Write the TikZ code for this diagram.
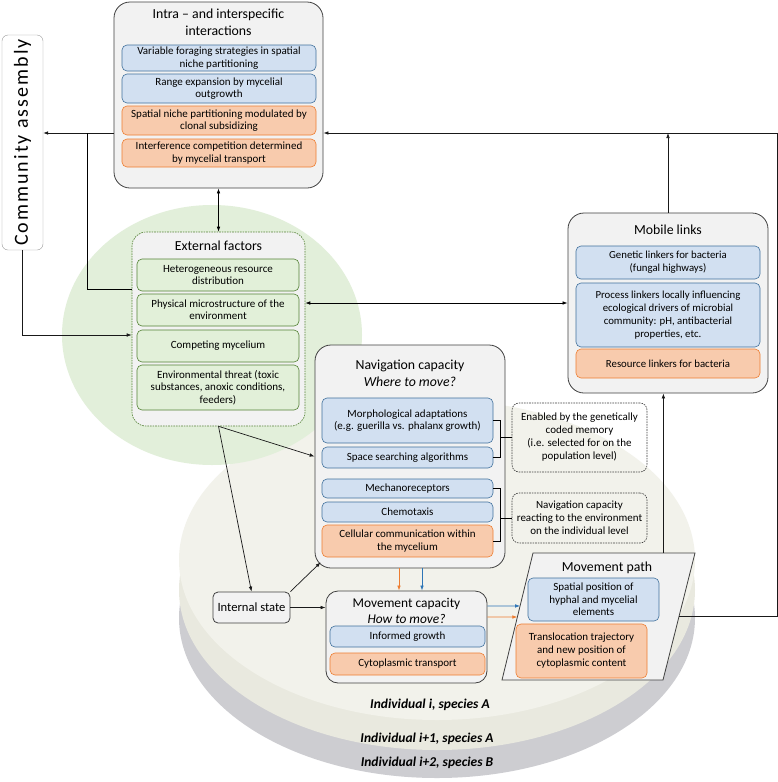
\documentclass[tikz,border=0pt]{standalone}
\usepackage{fontspec}
\setmainfont{Carlito}
\newfontfamily\spacedfont[LetterSpace=10]{Carlito}
\usepackage{graphicx}
\usepackage{tikz}
\usetikzlibrary{calc,arrows.meta}

\definecolor{panelfill}{RGB}{242,242,242}
\definecolor{paneldraw}{RGB}{64,64,64}
\definecolor{bluefill}{RGB}{210,224,241}
\definecolor{bluedraw}{RGB}{65,113,156}
\definecolor{orangefill}{RGB}{248,203,173}
\definecolor{orangedraw}{RGB}{237,125,49}
\definecolor{greenfill}{RGB}{226,240,217}
\definecolor{greendraw}{RGB}{84,130,53}
\definecolor{halo}{RGB}{226,239,218}
\definecolor{diska}{RGB}{242,242,235}
\definecolor{diskb}{RGB}{233,233,223}
\definecolor{diskc}{RGB}{205,205,209}
\definecolor{arrowblue}{RGB}{46,117,182}
\definecolor{arroworange}{RGB}{237,125,49}

\tikzset{
  panel/.style={draw=paneldraw, fill=panelfill, line width=0.8pt, rounded corners=16pt},
  item/.style={rounded corners=5pt, line width=0.6pt, align=center, inner sep=1pt,
    font=\fontsize{11}{12.4}\selectfont},
  blueitem/.style={item, draw=bluedraw, fill=bluefill},
  orangeitem/.style={item, draw=orangedraw, fill=orangefill},
  greenitem/.style={item, draw=greendraw, fill=greenfill},
  heading/.style={align=center, font=\fontsize{13.8}{17}\selectfont},
  note/.style={draw=paneldraw, rounded corners=7pt, dash pattern=on 1.6pt off 1pt,
    line width=0.6pt, align=center, font=\fontsize{11}{13}\selectfont},
  disklabel/.style={font=\fontsize{13.5}{15}\selectfont\bfseries\itshape},
  arr/.style={-{Latex[length=5pt,width=3.6pt]}, line width=0.7pt, draw=black!90},
  darr/.style={{Latex[length=5pt,width=3.6pt]}-{Latex[length=5pt,width=3.6pt]}, line width=0.7pt},
  barr/.style={arr, draw=arrowblue},
  oarr/.style={arr, draw=arroworange}
}

\begin{document}
\begin{tikzpicture}[x=1pt,y=-1pt]
\useasboundingbox (0,0) rectangle (778,782);
\fill[white] (0,0) rectangle (778,782);

% stacked individuals and the green halo
\fill[diskc] (437,618) ellipse [x radius=258,y radius=160];
\fill[diskb] (437,590) ellipse [x radius=258,y radius=160];
\fill[diska] (437,560) ellipse [x radius=258,y radius=160];
\fill[halo] (212,335) ellipse [x radius=150,y radius=130];

\node[disklabel] (indA) at (430,705) {Individual i, species A};
\node[disklabel] (indA2) at (427,739) {Individual i+1, species A};
\node[disklabel] (indB) at (427,763) {Individual i+2, species B};

\node[draw=black!40, fill=white, rounded corners=6pt, minimum width=41, minimum height=215,
  inner sep=0pt, font=\spacedfont\fontsize{20}{20}\selectfont] (comm) at (22.5,142.5)
  {\rotatebox{90}{Community assembly}};

% interactions
\node[panel, minimum width=209, minimum height=186] (inter) at (218.5,95) {};
\node[heading] (intertitle) at (218.5,22) {Intra – and interspecific\\interactions};
\node[blueitem, minimum width=194, minimum height=26] (forage) at (219,58) {Variable foraging strategies in spatial\\niche partitioning};
\node[blueitem, minimum width=194, minimum height=29] (range) at (219,88.5) {Range expansion by mycelial\\outgrowth};
\node[orangeitem, minimum width=194, minimum height=29] (subsid) at (219,120.5) {Spatial niche partitioning modulated by\\clonal subsidizing};
\node[orangeitem, minimum width=194, minimum height=28] (interf) at (219,153) {Interference competition determined\\by mycelial transport};

% external factors
\node[panel, draw=greendraw, dash pattern=on 1.6pt off 1pt, line width=0.6pt, rounded corners=14pt,
  minimum width=173, minimum height=194] (ext) at (218.5,329) {};
\node[heading] (exttitle) at (218.5,246) {External factors};
\node[greenitem, minimum width=162, minimum height=32] (hetero) at (218,275) {Heterogeneous resource\\distribution};
\node[greenitem, minimum width=162, minimum height=32] (physic) at (218,310) {Physical microstructure of the\\environment};
\node[greenitem, minimum width=162, minimum height=32] (compet) at (218,346) {Competing mycelium};
\node[greenitem, minimum width=162, minimum height=45] (threat) at (218,387.5) {Environmental threat (toxic\\substances, anoxic conditions,\\feeders)};

% mobile links
\node[panel, minimum width=200, minimum height=180] (mob) at (668,303) {};
\node[heading] (mobtitle) at (668,230) {Mobile links};
\node[blueitem, minimum width=184, minimum height=33, font=\fontsize{10.8}{13}\selectfont] (genlink) at (668,262.5) {Genetic linkers for bacteria\\(fungal highways)};
\node[blueitem, minimum width=184, minimum height=64, font=\fontsize{10.8}{13}\selectfont] (proclink) at (668,315) {Process linkers locally influencing\\ecological drivers of microbial\\community: pH, antibacterial\\properties, etc.};
\node[orangeitem, minimum width=184, minimum height=29, font=\fontsize{10.8}{13}\selectfont] (reslink) at (668,363.5) {Resource linkers for bacteria};

% navigation
\node[panel, minimum width=190, minimum height=223] (nav) at (410,456.5) {};
\node[heading] (navtitle) at (410,373.5) {Navigation capacity\\\textit{Where to move?}};
\node[blueitem, minimum width=171, minimum height=45] (morph) at (407.5,420.5) {Morphological adaptations\\(e.g. guerilla vs. phalanx growth)};
\node[blueitem, minimum width=171, minimum height=21] (search) at (407.5,457.5) {Space searching algorithms};
\node[blueitem, minimum width=171, minimum height=19] (mechano) at (407.5,488.5) {Mechanoreceptors};
\node[blueitem, minimum width=171, minimum height=20] (chemo) at (407.5,512) {Chemotaxis};
\node[orangeitem, minimum width=171, minimum height=32] (cellcom) at (407.5,541) {Cellular communication within\\the mycelium};

\node[note, minimum width=135, minimum height=69] (memory) at (579.5,437.5) {Enabled by the genetically\\coded memory\\(i.e. selected for on the\\population level)};
\node[note, minimum width=135, minimum height=50] (reacting) at (579.5,518) {Navigation capacity\\reacting to the environment\\on the individual level};

\draw[line width=0.6pt] (morph.east) -- ++(7,0) coordinate (brk1) |- (search.east);
\draw[line width=0.6pt] (memory.west) -- (memory.west -| brk1);
\draw[line width=0.6pt] (mechano.east) -- ++(7,0) coordinate (brk2) |- (cellcom.east);
\draw[line width=0.6pt] (reacting.west) -- (reacting.west -| brk2);

% movement
\node[panel, rounded corners=12pt, minimum width=161, minimum height=92] (move) at (406.5,637) {};
\node[heading, font=\fontsize{13.4}{16}\selectfont] (movetitle) at (406.5,611) {Movement capacity\\\textit{How to move?}};
\node[blueitem, minimum width=155, minimum height=21] (growth) at (407.5,636.5) {Informed growth};
\node[orangeitem, minimum width=155, minimum height=22] (cyto) at (407.5,664) {Cytoplasmic transport};

\node[panel, rounded corners=5pt, minimum width=77, minimum height=31, inner sep=1pt,
  font=\fontsize{12.6}{14}\selectfont] (state) at (251.5,607.5) {Internal state};

\draw[panel, rounded corners=0pt] (502,680) coordinate (pbl) -- (533,553) coordinate (ptl)
  -- (695,553) coordinate (ptr) -- (663,680) coordinate (pbr) -- cycle;
\node[heading] (pathtitle) at (607,568) {Movement path};
\node[blueitem, minimum width=131, minimum height=43] (spatial) at (593.5,599.5) {Spatial position of\\hyphal and mycelial\\elements};
\node[orangeitem, minimum width=131, minimum height=54, font=\fontsize{11}{13}\selectfont] (transloc) at (581.5,651) {Translocation trajectory\\and new position of\\cytoplasmic content};

% connectors
\coordinate (split) at (87,133);
\coordinate (loop) at (777,133);
\coordinate (pin1) at ($(pbl)!0.583!(ptl)$);
\coordinate (pin2) at ($(pbl)!0.496!(ptl)$);
\coordinate (ptop) at ($(ptl)!0.805!(ptr)$);
\coordinate (pside) at ($(pbr)!0.5!(ptr)$);

\draw[arr] (inter.west |- split) -- (comm.east |- split);
\draw[line width=0.7pt] ([yshift=40pt]ext.west) -| (split);
\draw[arr] (comm.south) |- ([yshift=-6pt]ext.west);
\draw[darr] (inter.south) -- (ext.north);
\draw[darr] (ext.east |- mob.west) -- (mob.west);
\draw[arr] (ext.south) -- (state.north);
\draw[arr] (ext.south) -- (nav.west);
\draw[arr] (state.north east) -- ($(nav.south west)+(6,-6)$);
\draw[arr] (state.east) -- (state.east -| move.west);
\draw[oarr] ([xshift=-11pt]nav.south) -- ([xshift=-11pt]nav.south |- move.north);
\draw[barr] ([xshift=12pt]nav.south) -- ([xshift=12pt]nav.south |- move.north);
\draw[barr] ([yshift=31pt]move.east) -- (pin1);
\draw[oarr] ([yshift=20pt]move.east) -- (pin2);
\draw[arr] (ptop) -- (ptop |- mob.south);
\draw[arr] (pside) -| (loop) -- (loop -| inter.east);
\draw[arr] (mob.north) -- (mob.north |- loop);
\end{tikzpicture}
\end{document}
